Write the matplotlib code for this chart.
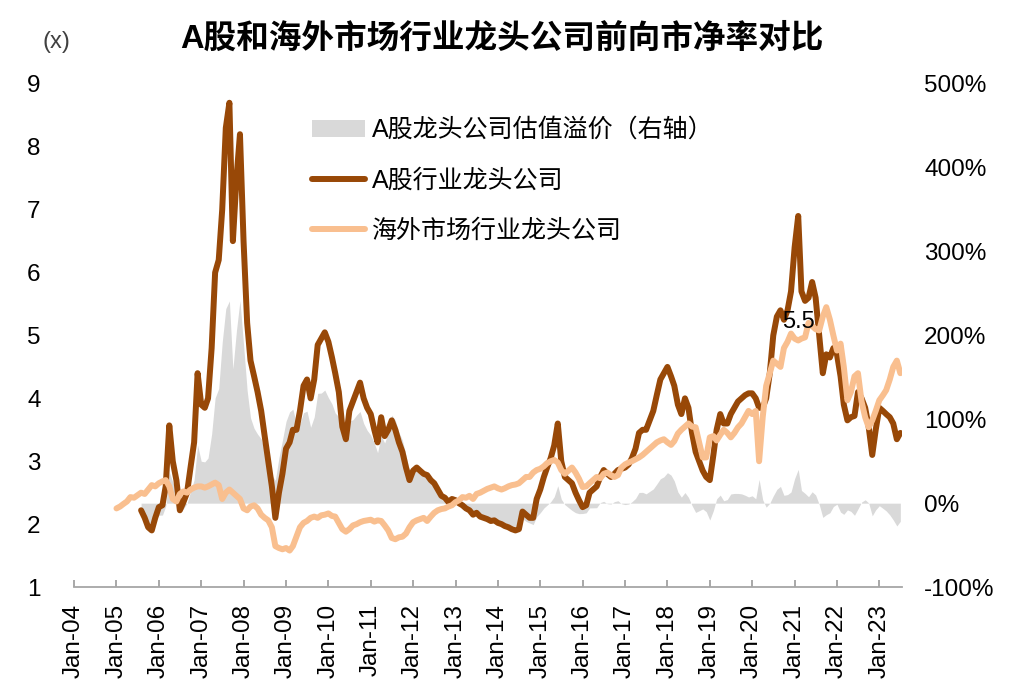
import matplotlib.pyplot as plt
import matplotlib.dates as mdates
from matplotlib.ticker import FuncFormatter
import numpy as np
import pandas as pd

plt.rcParams['font.family'] = ['Liberation Sans', 'Noto Sans CJK SC']

# monthly, Jan-2005 .. Jul-2023
dates = pd.date_range('2005-01-01', periods=223, freq='MS')

# A-share industry leaders, forward P/B (x)
a_pb = np.array([
    np.nan, np.nan, np.nan, np.nan, np.nan, np.nan, np.nan, 2.22, 2.1, 1.95, 1.9, 2.1,   # 2005
    2.27, 2.3, 2.6, 3.57, 3.0, 2.7, 2.22, 2.35, 2.5, 2.9, 3.3, 4.4,                       # 2006
    3.9, 3.85, 4.0, 4.8, 6.0, 6.2, 7.0, 8.3, 8.7, 6.5, 7.5, 8.2,                          # 2007
    6.5, 5.2, 4.6, 4.35, 4.1, 3.8, 3.4, 3.0, 2.6, 2.1, 2.5, 2.8,                          # 2008
    3.2, 3.3, 3.5, 3.5, 3.8, 4.2, 4.3, 4.0, 4.3, 4.85, 4.95, 5.05,                        # 2009
    4.9, 4.65, 4.4, 4.1, 3.55, 3.35, 3.8, 3.95, 4.1, 4.25, 4.0, 3.85,                     # 2010
    3.75, 3.5, 3.3, 3.7, 3.4, 3.5, 3.65, 3.5, 3.3, 3.15, 2.9, 2.7,                        # 2011
    2.85, 2.9, 2.85, 2.8, 2.78, 2.7, 2.65, 2.55, 2.45, 2.42, 2.35, 2.4,                   # 2012
    2.38, 2.33, 2.3, 2.25, 2.22, 2.15, 2.18, 2.12, 2.1, 2.08, 2.05, 2.06,                 # 2013
    2.02, 2.0, 1.97, 1.95, 1.92, 1.9, 1.92, 2.2, 2.15, 2.1, 2.1, 2.4,                     # 2014
    2.55, 2.75, 2.9, 3.05, 3.25, 3.6, 3.0, 2.75, 2.7, 2.65, 2.5, 2.38,                    # 2015
    2.27, 2.3, 2.5, 2.55, 2.6, 2.75, 2.86, 2.8, 2.75, 2.8, 2.86, 2.88,                    # 2016
    2.9, 2.95, 3.05, 3.2, 3.45, 3.5, 3.5, 3.65, 3.8, 4.05, 4.3, 4.4,                      # 2017
    4.5, 4.35, 4.2, 3.9, 3.75, 4.0, 3.85, 3.45, 3.15, 3.0, 2.85, 2.75,                    # 2018
    2.7, 3.1, 3.5, 3.75, 3.6, 3.6, 3.75, 3.85, 3.95, 4.0, 4.05, 4.08,                     # 2019
    4.08, 4.0, 3.85, 3.85, 4.0, 4.4, 5.0, 5.3, 5.4, 5.25, 5.4, 5.7,                       # 2020
    6.4, 6.9, 5.7, 5.55, 5.6, 5.85, 5.6, 5.0, 4.4, 4.7, 4.65, 4.8,                        # 2021
    4.7, 4.35, 3.9, 3.65, 3.7, 3.72, 4.1, 4.0, 3.85, 3.55, 3.1, 3.5,                      # 2022
    3.85, 3.8, 3.75, 3.7, 3.6, 3.35, 3.45,                                                # 2023
])

# overseas industry leaders, forward P/B (x)
overseas_pb = np.array([
    2.25, 2.28, 2.32, 2.36, 2.43, 2.42, 2.46, 2.5, 2.48, 2.55, 2.62, 2.6,        # 2005
    2.65, 2.68, 2.7, 2.6, 2.4, 2.36, 2.48, 2.52, 2.5, 2.55, 2.58, 2.6,           # 2006
    2.6, 2.58, 2.6, 2.63, 2.66, 2.62, 2.4, 2.5, 2.55, 2.5, 2.45, 2.4,            # 2007
    2.25, 2.22, 2.28, 2.3, 2.25, 2.15, 2.1, 2.06, 1.95, 1.65, 1.62, 1.6,         # 2008
    1.62, 1.58, 1.65, 1.8, 1.95, 2.02, 2.05, 2.1, 2.12, 2.1, 2.14, 2.15,         # 2009
    2.17, 2.13, 2.12, 2.02, 1.92, 1.88, 1.92, 1.98, 2.0, 2.03, 2.05, 2.06,       # 2010
    2.07, 2.04, 2.06, 2.05, 1.98, 1.9, 1.78, 1.76, 1.79, 1.8, 1.85, 1.95,        # 2011
    2.03, 2.06, 2.08, 2.1, 2.05, 2.12, 2.18, 2.22, 2.24, 2.25, 2.28, 2.3,        # 2012
    2.35, 2.38, 2.43, 2.42, 2.45, 2.4, 2.48, 2.5, 2.53, 2.56, 2.58, 2.6,         # 2013
    2.57, 2.55, 2.57, 2.6, 2.62, 2.63, 2.65, 2.7, 2.75, 2.75, 2.82, 2.86,        # 2014
    2.88, 2.92, 2.97, 3.0, 3.02, 2.98, 2.86, 2.8, 2.85, 2.9, 2.82, 2.72,         # 2015
    2.59, 2.6, 2.65, 2.7, 2.75, 2.73, 2.8, 2.82, 2.78, 2.75, 2.78, 2.9,          # 2016
    2.95, 2.98, 3.0, 3.03, 3.06, 3.1, 3.15, 3.2, 3.25, 3.3, 3.33, 3.35,          # 2017
    3.3, 3.26, 3.32, 3.44, 3.5, 3.55, 3.6, 3.55, 3.54, 3.3, 3.06, 3.06,          # 2018
    3.38, 3.4, 3.33, 3.42, 3.5, 3.45, 3.38, 3.45, 3.54, 3.6, 3.7, 3.8,           # 2019
    3.75, 3.8, 3.0, 3.7, 4.2, 4.4, 4.6, 4.55, 4.5, 4.8, 4.9, 5.03,               # 2020
    4.95, 4.92, 4.95, 4.97, 5.2, 5.15, 5.1, 5.08, 5.3, 5.45, 5.25, 5.0,          # 2021
    4.76, 4.87, 4.5, 3.97, 4.1, 4.35, 4.4, 3.95, 3.7, 3.54, 3.65, 3.8,           # 2022
    3.97, 4.05, 4.13, 4.3, 4.5, 4.6, 4.4,                                        # 2023
])

# valuation premium of A-share leaders, % (right axis)
premium = (a_pb / overseas_pb - 1) * 100

year_ticks = [pd.Timestamp(f'{y}-01-01') for y in range(2004, 2024)]

brown = '#984807'
peach = '#f9bf8f'
grey = '#d9d9d9'

fig = plt.figure(figsize=(10.21, 6.98), dpi=100)
ax = fig.add_axes([0.0725, 0.159, 0.8109, 0.7208])
ax2 = ax.twinx()

area = ax2.fill_between(dates, 0, premium, where=~np.isnan(premium),
                        color=grey, lw=0, label='A股龙头公司估值溢价（右轴）')
l1, = ax.plot(dates, a_pb, color=brown, lw=4.3, label='A股行业龙头公司',
              solid_capstyle='round', solid_joinstyle='round')
l2, = ax.plot(dates, overseas_pb, color=peach, lw=4.3, label='海外市场行业龙头公司',
              solid_capstyle='round', solid_joinstyle='round')

ax.set_zorder(ax2.get_zorder() + 1)
ax.patch.set_visible(False)

ax.set_ylim(1, 9)
ax.set_yticks(range(1, 10))
ax2.set_ylim(-100, 500)
ax2.set_yticks(range(-100, 501, 100))
ax2.yaxis.set_major_formatter(FuncFormatter(lambda v, p: f'{v:.0f}%'))

ax.set_xlim(pd.Timestamp('2004-01-01'), pd.Timestamp('2023-07-15'))
ax.set_xticks(year_ticks)
ax.xaxis.set_major_formatter(mdates.DateFormatter('%b-%y'))

ax.tick_params(axis='x', direction='in', length=5, color='#999999', width=1.2,
               pad=12, labelsize=17.5, labelrotation=90)
ax.tick_params(axis='y', length=0, pad=24, labelsize=17.5)
ax2.tick_params(axis='y', length=0, pad=16, labelsize=17.5)

for s in ['top', 'left', 'right']:
    ax.spines[s].set_visible(False)
for s in ax2.spines.values():
    s.set_visible(False)
ax.spines['bottom'].set_color('#a6a6a6')
ax.spines['bottom'].set_linewidth(1.3)

ax.text(pd.Timestamp('2021-02-01'), 5.22, '5.5', fontsize=17, ha='center', va='center')

leg = ax.legend([area, l1, l2], [area.get_label(), l1.get_label(), l2.get_label()],
                loc='upper left', bbox_to_anchor=(312 / 1021, 1 - 118 / 698),
                bbox_transform=fig.transFigure, frameon=False, fontsize=18,
                handlelength=2.1, handletextpad=0.3, labelspacing=1.05,
                borderpad=0, borderaxespad=0)

fig.text(56 / 1021, 1 - 42 / 698, '(x)', ha='center', va='center', fontsize=17, color='#404040')
fig.text(0.492, 1 - 39 / 698, 'A股和海外市场行业龙头公司前向市净率对比',
         ha='center', va='center', fontsize=23.5, fontweight='bold')

fig.savefig('out.png', dpi=100)
